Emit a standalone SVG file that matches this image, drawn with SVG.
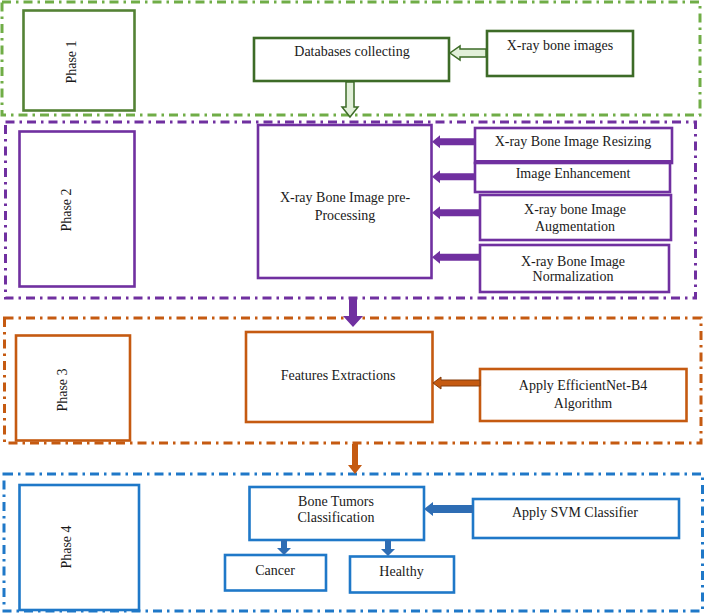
<svg xmlns="http://www.w3.org/2000/svg" width="705" height="613" viewBox="0 0 705 613">
<style>
text{font-family:"Liberation Serif","Times New Roman",serif;font-size:14px;fill:#1a1a1a;text-anchor:middle}
.outer{fill:none;stroke-width:3;stroke-dasharray:9 5 2.5 5}
.box{fill:#fff;stroke-width:2.6}
.g1{stroke:#70AD47}.g2{stroke:#548235}.g3{stroke:#3D6B27}
.p{stroke:#7030A0}.o{stroke:#C55A11}.b{stroke:#1F78C8}
</style>
<rect width="705" height="613" fill="#fff"/>
<g id="phase1">
<rect class="outer g1" x="2" y="2" width="698" height="113"/>
<g id="phase1-label"><rect class="box g2" x="23.5" y="10.5" width="111" height="100"/><text transform="translate(72,62) rotate(-90)" dy="4">Phase 1</text></g>
<g id="databases"><rect class="box g3" x="254" y="38" width="195" height="43"/><text x="352" y="56">Databases collecting</text></g>
<g id="xray-images"><rect class="box g3" x="487" y="31" width="146" height="45"/><text x="560" y="50">X-ray bone images</text></g>
</g>
<g id="phase2">
<rect class="outer p" x="5.5" y="122" width="690" height="176"/>
<g id="phase2-label"><rect class="box p" x="19.5" y="131.5" width="115" height="155"/><text transform="translate(66.5,210) rotate(-90)" dy="4">Phase 2</text></g>
<g id="preprocessing"><rect class="box p" x="258" y="125" width="173.5" height="153"/><text x="345" y="202">X-ray Bone Image pre-</text><text x="345" y="220">Processing</text></g>
<g id="resizing"><rect class="box p" x="475" y="128" width="197" height="35"/><line x1="475" y1="162" x2="672" y2="162" stroke="#7030A0" stroke-width="4"/><text x="573" y="146">X-ray Bone Image Resizing</text></g>
<g id="enhancement"><rect class="box p" x="475" y="163" width="195" height="29"/><text x="573" y="178">Image Enhancement</text></g>
<g id="augmentation"><rect class="box p" x="480" y="195" width="191" height="45"/><text x="575" y="214">X-ray bone Image</text><text x="575" y="231">Augmentation</text></g>
<g id="normalization"><rect class="box p" x="480" y="245" width="189" height="47"/><text x="573" y="266">X-ray Bone Image</text><text x="573" y="281">Normalization</text></g>
</g>
<g id="phase3">
<rect class="outer o" x="4.5" y="318" width="696.5" height="125"/>
<g id="phase3-label"><rect class="box o" x="16" y="335.5" width="114" height="105"/><text transform="translate(63,390) rotate(-90)" dy="4">Phase 3</text></g>
<g id="features"><rect class="box o" x="246" y="332" width="186.5" height="90"/><text x="338" y="380">Features Extractions</text></g>
<g id="efficientnet"><rect class="box o" x="480" y="369" width="206.5" height="52"/><text x="583" y="390">Apply EfficientNet-B4</text><text x="583" y="408">Algorithm</text></g>
</g>
<g id="phase4">
<rect class="outer b" x="4" y="474" width="698.5" height="137"/>
<g id="phase4-label"><rect class="box b" x="19.5" y="485" width="119.5" height="125"/><text transform="translate(66.5,547) rotate(-90)" dy="4">Phase 4</text></g>
<g id="classification"><rect class="box b" x="249.5" y="487" width="174.5" height="53"/><text x="336" y="506">Bone Tumors</text><text x="336" y="522">Classification</text></g>
<g id="svm"><rect class="box b" x="473" y="499" width="206" height="39"/><text x="575" y="517">Apply SVM Classifier</text></g>
<g id="cancer"><rect class="box b" x="225" y="555" width="101" height="35.5"/><text x="275" y="575">Cancer</text></g>
<g id="healthy"><rect class="box b" x="350" y="556.5" width="104" height="36"/><text x="401.5" y="576">Healthy</text></g>
</g>
<g id="connectors">
<polygon points="486,49 460,49 460,46 450,53 460,60 460,57 486,57" fill="#E2F0D9" stroke="#3D6B27" stroke-width="1.5"/>
<polygon points="346,82 354,82 354,107 358,107 350,117 342,107 346,107" fill="#E2F0D9" stroke="#3D6B27" stroke-width="1.5"/>
<g fill="#7030A0">
<polygon points="476,138.2 440,138.2 440,135.2 432,141.7 440,148.2 440,145.2 476,145.2"/>
<polygon points="476,173.2 440,173.2 440,170.2 432,176.7 440,183.2 440,180.2 476,180.2"/>
<polygon points="481,209.2 440,209.2 440,206.2 432,212.7 440,219.2 440,216.2 481,216.2"/>
<polygon points="481,253.8 440,253.8 440,250.8 432,257.3 440,263.8 440,260.8 481,260.8"/>
<polygon points="349,298 357,298 357,316 363,316 353,327 343,316 349,316"/>
</g>
<polygon points="480,380 441,380 441,377 433,383 441,389 441,386 480,386" fill="#C55A11" stroke="#843C0C" stroke-width="1"/>
<polygon points="352,444 358,444 358,465 362,465 355,474 348,465 352,465" fill="#C55A11"/>
<g fill="#2E6DB4">
<polygon points="473,505 433,505 433,502 424,509 433,516 433,513 473,513"/>
<polygon points="281,540 287,540 287,548 291,548 284,555 277,548 281,548"/>
<polygon points="385,540 391,540 391,549 395,549 388,556 381,549 385,549"/>
</g>
</g>
</svg>
